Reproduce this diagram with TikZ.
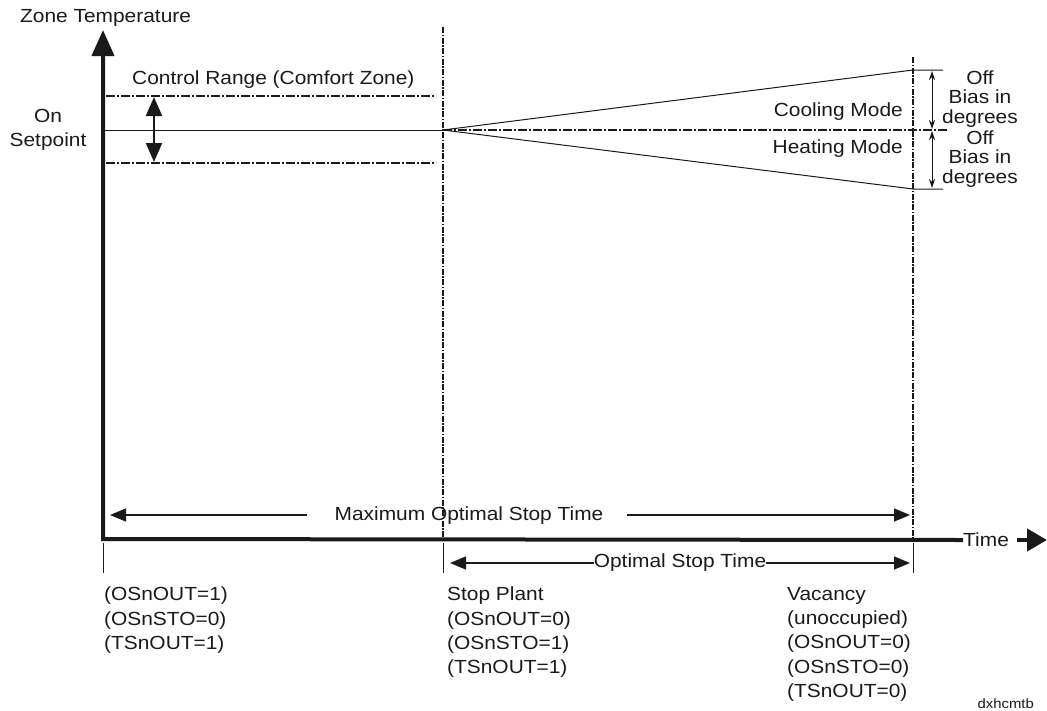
\documentclass[tikz,border=0pt]{standalone}
\usepackage{fontspec}
\setmainfont{Liberation Sans}[FakeStretch=1.1]
\usetikzlibrary{arrows.meta,positioning,calc}
\definecolor{Ink}{HTML}{1A1A1A}

\begin{document}
\begin{tikzpicture}[
    x=1pt, y=-1pt,
    font=\fontsize{19}{24.3}\selectfont,
    text=Ink,
    axis/.style={
        line width=4pt,
        draw=Ink,
        line join=miter
    },
    guide/.style={
        line width=1.3pt,
        draw=Ink,
        dash pattern=on 6pt off 1.5pt on 1.5pt off 1.5pt
    },
    band/.style={
        line width=1.2pt,
        draw=Ink,
        dash pattern=on 9pt off 2pt on 2pt off 2pt
    },
    plainline/.style={
        line width=1pt,
        draw=Ink
    },
    spanarrow/.style={
        -{Triangle[length=16pt,width=13pt]},
        line width=1.3pt,
        draw=Ink
    },
    rangearrow/.style={
        {Triangle[length=19pt,width=16pt]}-{Triangle[length=19pt,width=16pt]},
        line width=2pt,
        draw=Ink
    },
    biasarrow/.style={
        {Stealth[length=9pt,width=6pt]}-{Stealth[length=9pt,width=6pt]},
        line width=1pt,
        draw=Ink
    },
    labeltext/.style={
        inner sep=0pt,
        align=left,
        text=Ink
    },
    stacktext/.style={
        inner sep=0pt,
        align=center,
        text=Ink,
        font=\fontsize{19}{19.5}\selectfont
    }
]

\useasboundingbox (0,0) rectangle (1047,710);

% Key points
\coordinate (origin) at (103,539);
\coordinate (ytop) at (103,30);
\coordinate (stop) at (443,539);
\coordinate (stoptop) at (443,27);
\coordinate (vacant) at (913,539);
\coordinate (vacanttop) at (913,57);
\coordinate (apex) at (443,130);
\coordinate (coolend) at (913,70);
\coordinate (heatend) at (913,189);
\coordinate (timetip) at (1047,540);

% Axes
\node[labeltext, anchor=west] (timelbl) at (963,540) {Time};
\draw[axis, {Triangle[length=26pt,width=22pt]}-] (ytop) -- (origin) -- (timelbl.west);
\draw[axis, -{Triangle[length=20pt,width=22pt]}] ($(timelbl.east)+(8,0)$) -- (timetip);

\node[labeltext, anchor=west] (ylbl) at (20,18) {Zone Temperature};

% Time marks
\draw[guide] (stoptop) -- (stop);
\draw[guide] (vacanttop) -- (vacant);
\draw[plainline] ($(origin)+(0,4)$) -- ++(0,30);
\draw[plainline] ($(stop)+(0,4)$) -- ++(0,30);
\draw[plainline] ($(vacant)+(0,4)$) -- ++(0,30);

% Setpoint and control range
\node[labeltext, align=center] (setpt) at (48,130) {On\\Setpoint};
\draw[plainline] (origin |- apex) -- (apex);
\draw[band] (apex) -- (947,130);
\draw[band] (106,96) -- (436,96);
\draw[band] (106,163) -- (436,163);
\draw[rangearrow] (154,97) -- (154,162);
\node[labeltext, anchor=west] (range) at (132,80) {Control Range (Comfort Zone)};

% Off bias
\draw[plainline] (apex) -- (coolend) -- ++(30,0);
\draw[plainline] (apex) -- (heatend) -- ++(30,0);
\draw[biasarrow] (932,71) -- (932,129);
\draw[biasarrow] (932,131) -- (932,188);
\node[labeltext, anchor=east] (cool) at (903,112) {Cooling Mode};
\node[labeltext, anchor=east] (heat) at (903,149) {Heating Mode};
\node[stacktext] (coolbias) at (980,99) {Off\\Bias in\\degrees};
\node[stacktext] (heatbias) at (980,159) {Off\\Bias in\\degrees};

% Stop times
\node[labeltext] (maxlbl) at (469,516) {Maximum Optimal Stop Time};
\draw[spanarrow] ($(maxlbl.west)+(-27,-1)$) -- (110,515);
\draw[spanarrow] ($(maxlbl.east)+(23,-1)$) -- (910,515);

\node[labeltext] (optlbl) at (680,563) {Optimal Stop Time};
\draw[spanarrow] (optlbl.west) -- (450,563);
\draw[spanarrow] (optlbl.east) -- (910,563);

% States
\node[labeltext, anchor=north west] (start) at (104,587)
{(OSnOUT=1)\\(OSnSTO=0)\\(TSnOUT=1)};
\node[labeltext, anchor=north west] (plant) at (447,587)
{Stop Plant\\(OSnOUT=0)\\(OSnSTO=1)\\(TSnOUT=1)};
\node[labeltext, anchor=north west] (vacancy) at (787,587)
{Vacancy\\(unoccupied)\\(OSnOUT=0)\\(OSnSTO=0)\\(TSnOUT=0)};

\node[labeltext, anchor=base east, font=\fontsize{13.5}{16}\selectfont] (tag) at (1034,708) {dxhcmtb};

\end{tikzpicture}
\end{document}
